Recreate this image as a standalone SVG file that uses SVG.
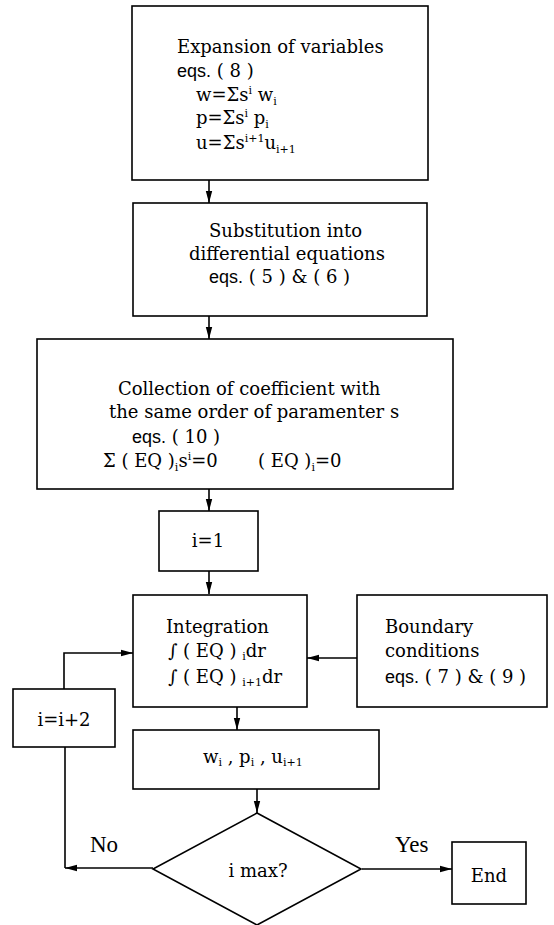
<svg xmlns="http://www.w3.org/2000/svg" width="554" height="925" viewBox="0 0 554 925">
<style>
  .box { fill: #fff; stroke: #000; stroke-width: 1.6; }
  .t { font-family: "DejaVu Serif", "Liberation Serif", serif; font-size: 18px; fill: #000; }
  .sans { font-family: "Liberation Sans", Arial, sans-serif; font-size: 18px; }
  .s { font-size: 11px; }
  .lbl { font-family: "Liberation Serif", "Times New Roman", serif; font-size: 23px; fill: #000; }
  .edge { fill: none; stroke: #000; stroke-width: 1.6; }
</style>
<defs>
  <marker id="arr" viewBox="0 0 12 8" refX="12" refY="4" markerWidth="12" markerHeight="8" markerUnits="userSpaceOnUse" orient="auto">
    <path d="M0,0.8 L12,4 L0,7.2 Z" fill="#000"/>
  </marker>
</defs>
<rect width="554" height="925" fill="#fff"/>

<g id="connectors">
  <path class="edge" d="M209,180 V203" marker-end="url(#arr)"/>
  <path class="edge" d="M209,316 V339" marker-end="url(#arr)"/>
  <path class="edge" d="M209,489 V511" marker-end="url(#arr)"/>
  <path class="edge" d="M209,571 V594" marker-end="url(#arr)"/>
  <path class="edge" d="M357,658 H307" marker-end="url(#arr)"/>
  <path class="edge" d="M237,707 V730" marker-end="url(#arr)"/>
  <path class="edge" d="M257,789 V813" marker-end="url(#arr)"/>
  <path class="edge" d="M64,689 V653 H133" marker-end="url(#arr)"/>
  <path class="edge" d="M153,868 H65" marker-end="url(#arr)"/>
  <path class="edge" d="M65,868 V747"/>
  <path class="edge" d="M362,869 H452" marker-end="url(#arr)"/>
  <text class="lbl" x="90" y="852">No</text>
  <text class="lbl" x="395" y="852">Yes</text>
</g>

<g id="expansion">
  <rect class="box" x="132" y="6" width="296" height="174"/>
  <text class="t" x="177" y="53">Expansion of variables</text>
  <text class="t" x="177" y="77"><tspan class="sans">eqs.</tspan> ( 8 )</text>
  <text class="t" x="196" y="101">w=Σs<tspan class="s" dy="-7">i</tspan><tspan dy="7"> w</tspan><tspan class="s" dy="4">i</tspan></text>
  <text class="t" x="196" y="124">p=Σs<tspan class="s" dy="-7">i</tspan><tspan dy="7"> p</tspan><tspan class="s" dy="4">i</tspan></text>
  <text class="t" x="196" y="149">u=Σs<tspan class="s" dy="-7">i+1</tspan><tspan dy="7">u</tspan><tspan class="s" dy="4">i+1</tspan></text>
</g>

<g id="substitution">
  <rect class="box" x="133" y="203" width="294" height="113"/>
  <text class="t" x="209" y="237">Substitution into</text>
  <text class="t" x="189" y="260">differential equations</text>
  <text class="t" x="209" y="283"><tspan class="sans">eqs.</tspan> ( 5 ) &amp; ( 6 )</text>
</g>

<g id="collection">
  <rect class="box" x="37" y="339" width="416" height="150"/>
  <text class="t" x="118" y="395">Collection of coefficient with</text>
  <text class="t" x="109" y="418">the same order of paramenter s</text>
  <text class="t" x="132" y="443"><tspan class="sans">eqs.</tspan> ( 10 )</text>
  <text class="t" x="103" y="467">Σ ( EQ )<tspan class="s" dy="4">i</tspan><tspan dy="-4">s</tspan><tspan class="s" dy="-7">i</tspan><tspan dy="7">=0</tspan></text>
  <text class="t" x="258" y="467">( EQ )<tspan class="s" dy="4">i</tspan><tspan dy="-4">=0</tspan></text>
</g>

<g id="init">
  <rect class="box" x="159" y="511" width="99" height="60"/>
  <text class="t" x="208" y="547" text-anchor="middle">i=1</text>
</g>

<g id="integration">
  <rect class="box" x="133" y="595" width="174" height="112"/>
  <text class="t" x="166" y="633">Integration</text>
  <text class="t" x="168" y="657">∫ ( EQ ) <tspan class="s" dy="3">i</tspan><tspan dy="-3">dr</tspan></text>
  <text class="t" x="168" y="683">∫ ( EQ ) <tspan class="s" dy="3">i+1</tspan><tspan dy="-3">dr</tspan></text>
</g>

<g id="boundary">
  <rect class="box" x="357" y="595" width="190" height="112"/>
  <text class="t" x="385" y="633">Boundary</text>
  <text class="t" x="385" y="657">conditions</text>
  <text class="t" x="385" y="683"><tspan class="sans">eqs.</tspan> ( 7 ) &amp; ( 9 )</text>
</g>

<g id="increment">
  <rect class="box" x="13" y="689" width="102" height="58"/>
  <text class="t" x="64" y="726" text-anchor="middle">i=i+2</text>
</g>

<g id="results">
  <rect class="box" x="133" y="730" width="246" height="59"/>
  <text class="t" x="203" y="763">w<tspan class="s" dy="3">i</tspan><tspan dy="-3"> , p</tspan><tspan class="s" dy="3">i</tspan><tspan dy="-3"> , u</tspan><tspan class="s" dy="3">i+1</tspan></text>
</g>

<g id="decision">
  <path class="box" d="M257,813 L361,869 L257,925 L153,869 Z"/>
  <text class="t" x="258" y="877" text-anchor="middle">i max?</text>
</g>

<g id="end">
  <rect class="box" x="452" y="842" width="74" height="62"/>
  <text class="t" x="489" y="882" text-anchor="middle">End</text>
</g>
</svg>
